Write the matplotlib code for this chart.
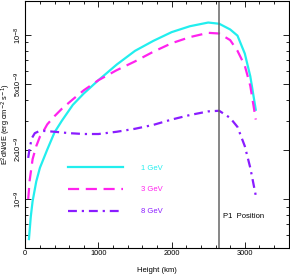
import numpy as np
import matplotlib
matplotlib.use("Agg")
import matplotlib.pyplot as plt
from matplotlib.ticker import FixedLocator, FixedFormatter, MultipleLocator, LogLocator, NullFormatter

# heights (km) and E^2 dN/dE values (units of 1e-9 erg cm^-2 s^-1)
height_1gev = [50, 75, 100, 150, 200, 300, 400, 500, 650, 800, 1000, 1250, 1500, 1750,
               2000, 2250, 2500, 2650, 2800, 2900, 3000, 3075, 3150]
flux_1gev = [0.57, 0.78, 0.97, 1.28, 1.55, 2.0, 2.55, 3.0, 3.75, 4.4, 5.3, 6.6, 8.0, 9.2,
             10.4, 11.3, 11.9, 11.7, 10.8, 9.9, 7.7, 5.6, 3.5]

height_3gev = [40, 60, 100, 150, 200, 250, 300, 400, 500, 650, 800, 1000, 1250, 1500,
               1750, 2000, 2250, 2500, 2650, 2800, 2900, 3000, 3075, 3150]
flux_3gev = [1.0, 1.3, 1.75, 2.1, 2.4, 2.6, 2.85, 3.2, 3.55, 4.05, 4.6, 5.3, 6.1, 6.9,
             7.9, 8.9, 9.7, 10.3, 10.2, 9.3, 8.0, 6.5, 4.9, 3.05]

height_8gev = [40, 60, 90, 130, 180, 250, 400, 600, 800, 1000, 1250, 1500, 1750, 2000,
               2250, 2500, 2650, 2800, 2900, 3000, 3075, 3150]
flux_8gev = [1.78, 2.05, 2.35, 2.52, 2.58, 2.6, 2.57, 2.52, 2.49, 2.49, 2.57, 2.68, 2.83,
             3.05, 3.25, 3.42, 3.45, 3.12, 2.75, 2.1, 1.55, 1.05]

p1_height = 2646

plt.rcParams['font.family'] = ['Liberation Sans', 'DejaVu Sans']

fig = plt.figure(figsize=(2.9, 2.76), dpi=100)
ax = fig.add_axes([0.0872, 0.1025, 0.9083, 0.8955])

ax.plot(height_1gev, np.array(flux_1gev) * 1e-9, color='#22eeee', lw=1.6, label='1 GeV')
ax.plot(height_3gev, np.array(flux_3gev) * 1e-9, color='#ff22ee', lw=1.6,
        dashes=(5, 3), label='3 GeV')
ax.plot(height_8gev, np.array(flux_8gev) * 1e-9, color='#8a1cff', lw=1.6,
        dashes=(4, 2.2, 1, 2.2), label='8 GeV')

ax.axvline(p1_height, color='#666666', lw=1.1)
ax.text(p1_height + 50, 7.8e-10, 'P1  Position', fontsize=5.5, va='center', ha='left')

ax.set_yscale('log')
ax.set_xlim(0, 3600)
ax.set_ylim(5.05e-10, 1.62e-8)

ax.xaxis.set_major_locator(MultipleLocator(1000))
ax.xaxis.set_minor_locator(MultipleLocator(200))
ax.yaxis.set_major_locator(FixedLocator([1e-9, 2e-9, 5e-9, 1e-8]))
ax.yaxis.set_major_formatter(FixedFormatter(['10$^{-9}$', '2x10$^{-9}$', '5x10$^{-9}$', '10$^{-8}$']))
ax.yaxis.set_minor_locator(LogLocator(base=10, subs=np.arange(2, 10)))
ax.yaxis.set_minor_formatter(NullFormatter())

ax.tick_params(which='both', direction='in', top=True, right=True, labelsize=5.3, pad=2)
ax.tick_params(axis='y', pad=1.2)
ax.tick_params(which='major', length=4, width=0.6)
ax.tick_params(which='minor', length=2, width=0.6)
for lab in ax.get_yticklabels():
    lab.set_rotation(90)
    lab.set_va('center')
for sp in ax.spines.values():
    sp.set_linewidth(0.8)

ax.set_xlabel('Height (km)', fontsize=5.5, labelpad=7)
ax.set_ylabel('E$^2$dN/dE (erg cm$^{-2}$ s$^{-1}$)', fontsize=5.3, va='center')
ax.yaxis.set_label_coords(-0.073, 0.5)

leg = ax.legend(loc='upper left', bbox_to_anchor=(0.163, 0.338), frameon=False,
                fontsize=5.5, handlelength=7.2, handletextpad=2.3, labelspacing=1.9,
                borderpad=0, borderaxespad=0)
for txt, line in zip(leg.get_texts(), leg.get_lines()):
    txt.set_color(line.get_color())

fig.savefig('out.png', dpi=100)
